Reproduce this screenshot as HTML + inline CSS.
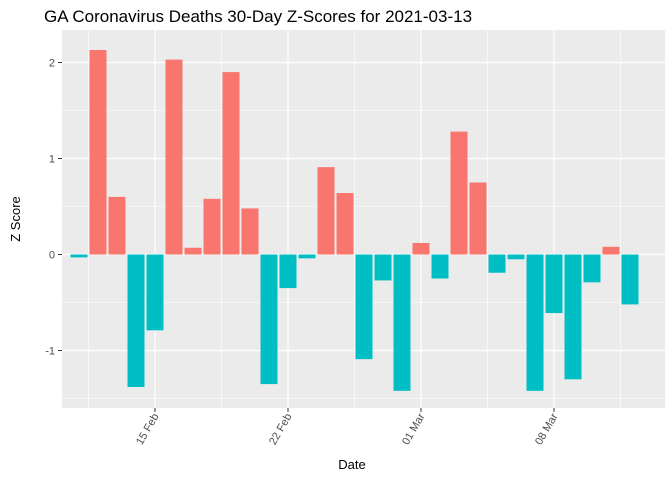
<!DOCTYPE html>
<html><head><meta charset="utf-8"><style>
body{margin:0;background:#fff;font-family:"Liberation Sans",sans-serif}
</style></head><body>
<svg id="c" width="672" height="480" xmlns="http://www.w3.org/2000/svg">
<text x="44" y="22" font-size="17" fill="#000">GA Coronavirus Deaths 30-Day Z-Scores for 2021-03-13</text>
<rect x="62" y="30" width="603" height="378" fill="#ebebeb"/>
<g id="grid"></g><g id="bars"></g><g id="axes"></g>
<text x="352" y="469" font-size="13" text-anchor="middle">Date</text>
<text transform="translate(20,219) rotate(-90)" font-size="13" text-anchor="middle">Z Score</text>
</svg>
<script>
const values=[-0.03,2.13,0.6,-1.38,-0.79,2.03,0.07,0.58,1.9,0.48,-1.35,-0.35,-0.04,0.91,0.64,-1.09,-0.27,-1.42,0.12,-0.25,1.28,0.75,-0.19,-0.05,-1.42,-0.61,-1.3,-0.29,0.08,-0.52];
const startDay=-4; // day offset of first bar relative to 15 Feb
const yTicks=[-1,0,1,2];
const xTickLabels=["15 Feb","22 Feb","01 Mar","08 Mar"];
const xTickDays=[0,7,14,21];
const NS="http://www.w3.org/2000/svg";
const X=d=>155+19*d, Y=v=>254.5-96*v;
function mk(t,a,p){const e=document.createElementNS(NS,t);for(const k in a)e.setAttribute(k,a[k]);document.getElementById(p).appendChild(e);return e;}
// minor grid
for(let v=-1.5;v<=2.5;v+=1){const y=Y(v);if(y>30&&y<408){const l=mk('line',{x1:62,x2:665,y1:y,y2:y,stroke:'#fff','stroke-width':0.6},'grid');}}
for(let d=-7;d<=28;d+=7){const x=X(d+3.5);if(x>62&&x<665){const l=mk('line',{x1:x,x2:x,y1:30,y2:408,stroke:'#fff','stroke-width':0.6},'grid');}}
yTicks.forEach(v=>{const y=Y(v);
const l=mk('line',{x1:62,x2:665,y1:y,y2:y,stroke:'#fff','stroke-width':1.2},'grid');
const t=mk('line',{x1:58,x2:62,y1:y,y2:y,stroke:'#333'},'axes');
const tx=mk('text',{x:55,y:y+4,'font-size':11,fill:'#4d4d4d','text-anchor':'end'},'axes');tx.textContent=v;});
xTickDays.forEach((d,i)=>{const x=X(d);
const l=mk('line',{x1:x,x2:x,y1:30,y2:408,stroke:'#fff','stroke-width':1.2},'grid');
const t=mk('line',{x1:x,x2:x,y1:408,y2:412,stroke:'#333'},'axes');
const tx=mk('text',{transform:`translate(${x+4},${416}) rotate(-60)`,'font-size':11,fill:'#4d4d4d','text-anchor':'end'},'axes');tx.textContent=xTickLabels[i];});
values.forEach((v,i)=>{const x=X(startDay+i);const y0=Y(0),y1=Y(v);
const r=mk('rect',{x:x-8.5,width:17,y:Math.min(y0,y1),height:Math.abs(y1-y0),fill:v>=0?'#f8766d':'#00bfc4'},'bars');
});
</script>
</body></html>
